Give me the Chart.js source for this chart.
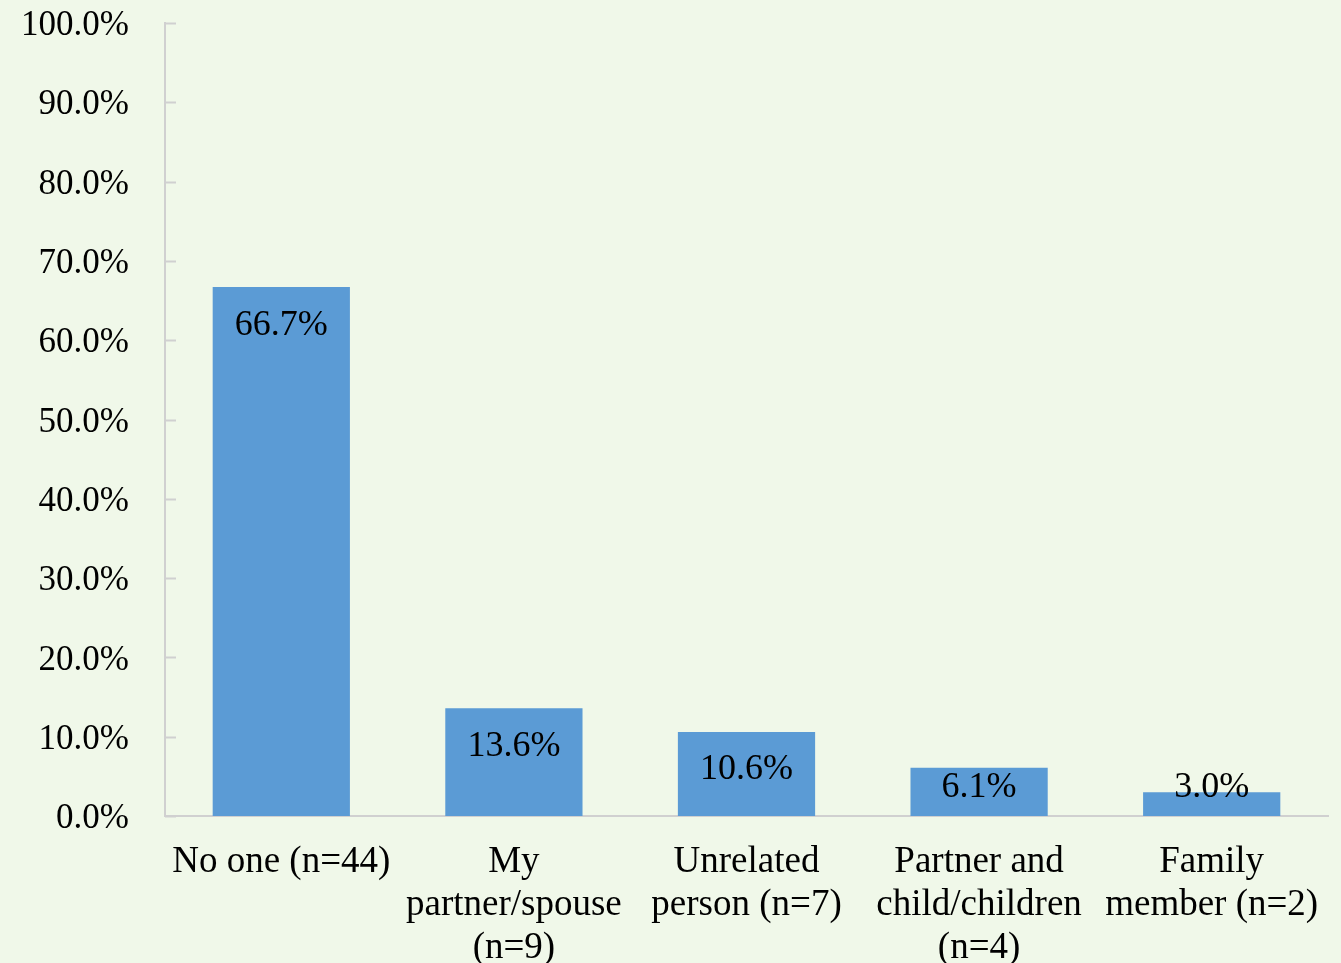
<!DOCTYPE html>
<html>
<head>
<meta charset="utf-8">
<script src="https://cdn.jsdelivr.net/npm/chart.js@4"></script>
<style>
  html, body { margin: 0; padding: 0; background: #f0f8e9; }
  #wrap { width: 1341px; height: 963px; }
</style>
</head>
<body>
<div id="wrap"><canvas id="helpChart"></canvas></div>
<script>
// Dữ liệu biểu đồ
const categories = [
  ['No one (n=44)'],
  ['My', 'partner/spouse', '(n=9)'],
  ['Unrelated', 'person (n=7)'],
  ['Partner and', 'child/children', '(n=4)'],
  ['Family', 'member (n=2)']
];
const percents = [66.7, 13.6, 10.6, 6.1, 3.0];
const yTicks = [0, 10, 20, 30, 40, 50, 60, 70, 80, 90, 100];

const FONT = "'Liberation Serif', 'Times New Roman', serif";

// Vạch chia nhỏ nằm bên trong trục Y
const innerTicks = {
  id: 'innerTicks',
  afterDraw(chart) {
    const y = chart.scales.y;
    const ctx = chart.ctx;
    ctx.save();
    ctx.strokeStyle = '#d0d0d0';
    ctx.lineWidth = 2;
    yTicks.forEach(v => {
      const py = Math.round(y.getPixelForValue(v)) + 0.5;
      ctx.beginPath();
      ctx.moveTo(y.right, py);
      ctx.lineTo(y.right + 11, py);
      ctx.stroke();
    });
    ctx.restore();
  }
};

// Nhãn giá trị bên trong đầu cột
const barLabels = {
  id: 'barLabels',
  afterDatasetsDraw(chart) {
    const ctx = chart.ctx;
    const meta = chart.getDatasetMeta(0);
    const base = chart.scales.y.getPixelForValue(0);
    ctx.save();
    ctx.font = '36px ' + FONT;
    ctx.fillStyle = '#000';
    ctx.textAlign = 'center';
    ctx.textBaseline = 'middle';
    meta.data.forEach((bar, i) => {
      const yy = Math.min(bar.y + 38, base - 28);
      ctx.fillText(percents[i].toFixed(1) + '%', bar.x, yy);
    });
    ctx.restore();
  }
};

const ctx = document.getElementById('helpChart').getContext('2d');
new Chart(ctx, {
  type: 'bar',
  data: {
    labels: categories,
    datasets: [{
      data: percents,
      backgroundColor: '#5b9bd5',
      borderWidth: 0,
      categoryPercentage: 0.59,
      barPercentage: 1.0
    }]
  },
  options: {
    responsive: true,
    maintainAspectRatio: false,
    animation: false,
    layout: { padding: { left: 0, top: 23, right: 13, bottom: 0 } },
    plugins: { legend: { display: false }, tooltip: { enabled: false } },
    scales: {
      x: {
        grid: { display: false, drawTicks: false },
        border: { display: true, color: '#d0d0d0', width: 2 },
        ticks: {
          color: '#000',
          font: { family: FONT, size: 37, lineHeight: 1.16 },
          padding: 25,
          maxRotation: 0,
          autoSkip: false
        },
        afterFit(s) { s.height = 147; s.paddingLeft = 0; s.paddingRight = 0; }
      },
      y: {
        min: 0,
        max: 100,
        afterBuildTicks(s) { s.ticks = yTicks.map(v => ({ value: v })); },
        grid: { display: false, drawTicks: false },
        border: { display: true, color: '#d0d0d0', width: 2 },
        ticks: {
          color: '#000',
          font: { family: FONT, size: 35 },
          padding: 36,
          labelOffset: 3,
          callback: v => v.toFixed(1) + '%'
        },
        afterFit(s) { s.width = 165; s.paddingTop = 0; s.paddingBottom = 0; }
      }
    }
  },
  plugins: [innerTicks, barLabels]
});
</script>
</body>
</html>
